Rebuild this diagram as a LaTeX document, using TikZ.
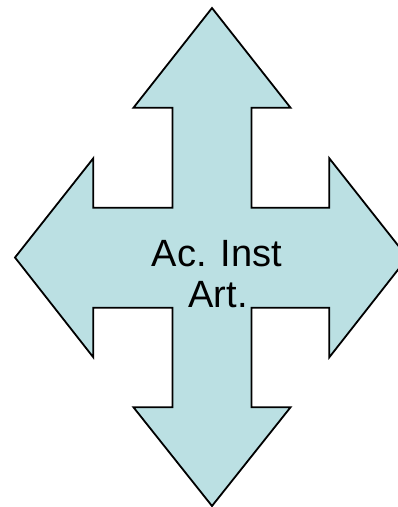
\documentclass[tikz,border=0pt]{standalone}
\usepackage{fontspec}
\setmainfont{Liberation Sans}
\definecolor{arrowfill}{RGB}{187,224,227}
\begin{document}
\begin{tikzpicture}[x=1pt,y=-1pt,
  crossarrow/.style={draw=black,fill=arrowfill,line width=1.8pt,line join=miter},
  label/.style={font=\fontsize{38}{41}\selectfont,anchor=base,inner sep=0pt}]
\useasboundingbox (0,0) rectangle (398,507);
\clip (0,0) rectangle (398,507);
\draw[crossarrow] (212,8) -- (290.5,107.7) -- (251.5,107.7) -- (251.5,207.7)
  -- (329.3,207.7) -- (329.3,158.3) -- (407.6,257.5) -- (329.3,357.3)
  -- (329.3,307.7) -- (251.5,307.7) -- (251.5,407.3) -- (290.5,407.3)
  -- (212,506) -- (133.5,407.3) -- (172.5,407.3) -- (172.5,307.7)
  -- (93.3,307.7) -- (93.3,357.3) -- (15,257.5) -- (93.3,158.3)
  -- (93.3,207.7) -- (172.5,207.7) -- (172.5,107.7) -- (133.5,107.7) -- cycle;
\node[label] (line1) at (217,266) {Ac. Inst};
\node[label] (line2) at (218,307) {Art.};
\end{tikzpicture}
\end{document}
